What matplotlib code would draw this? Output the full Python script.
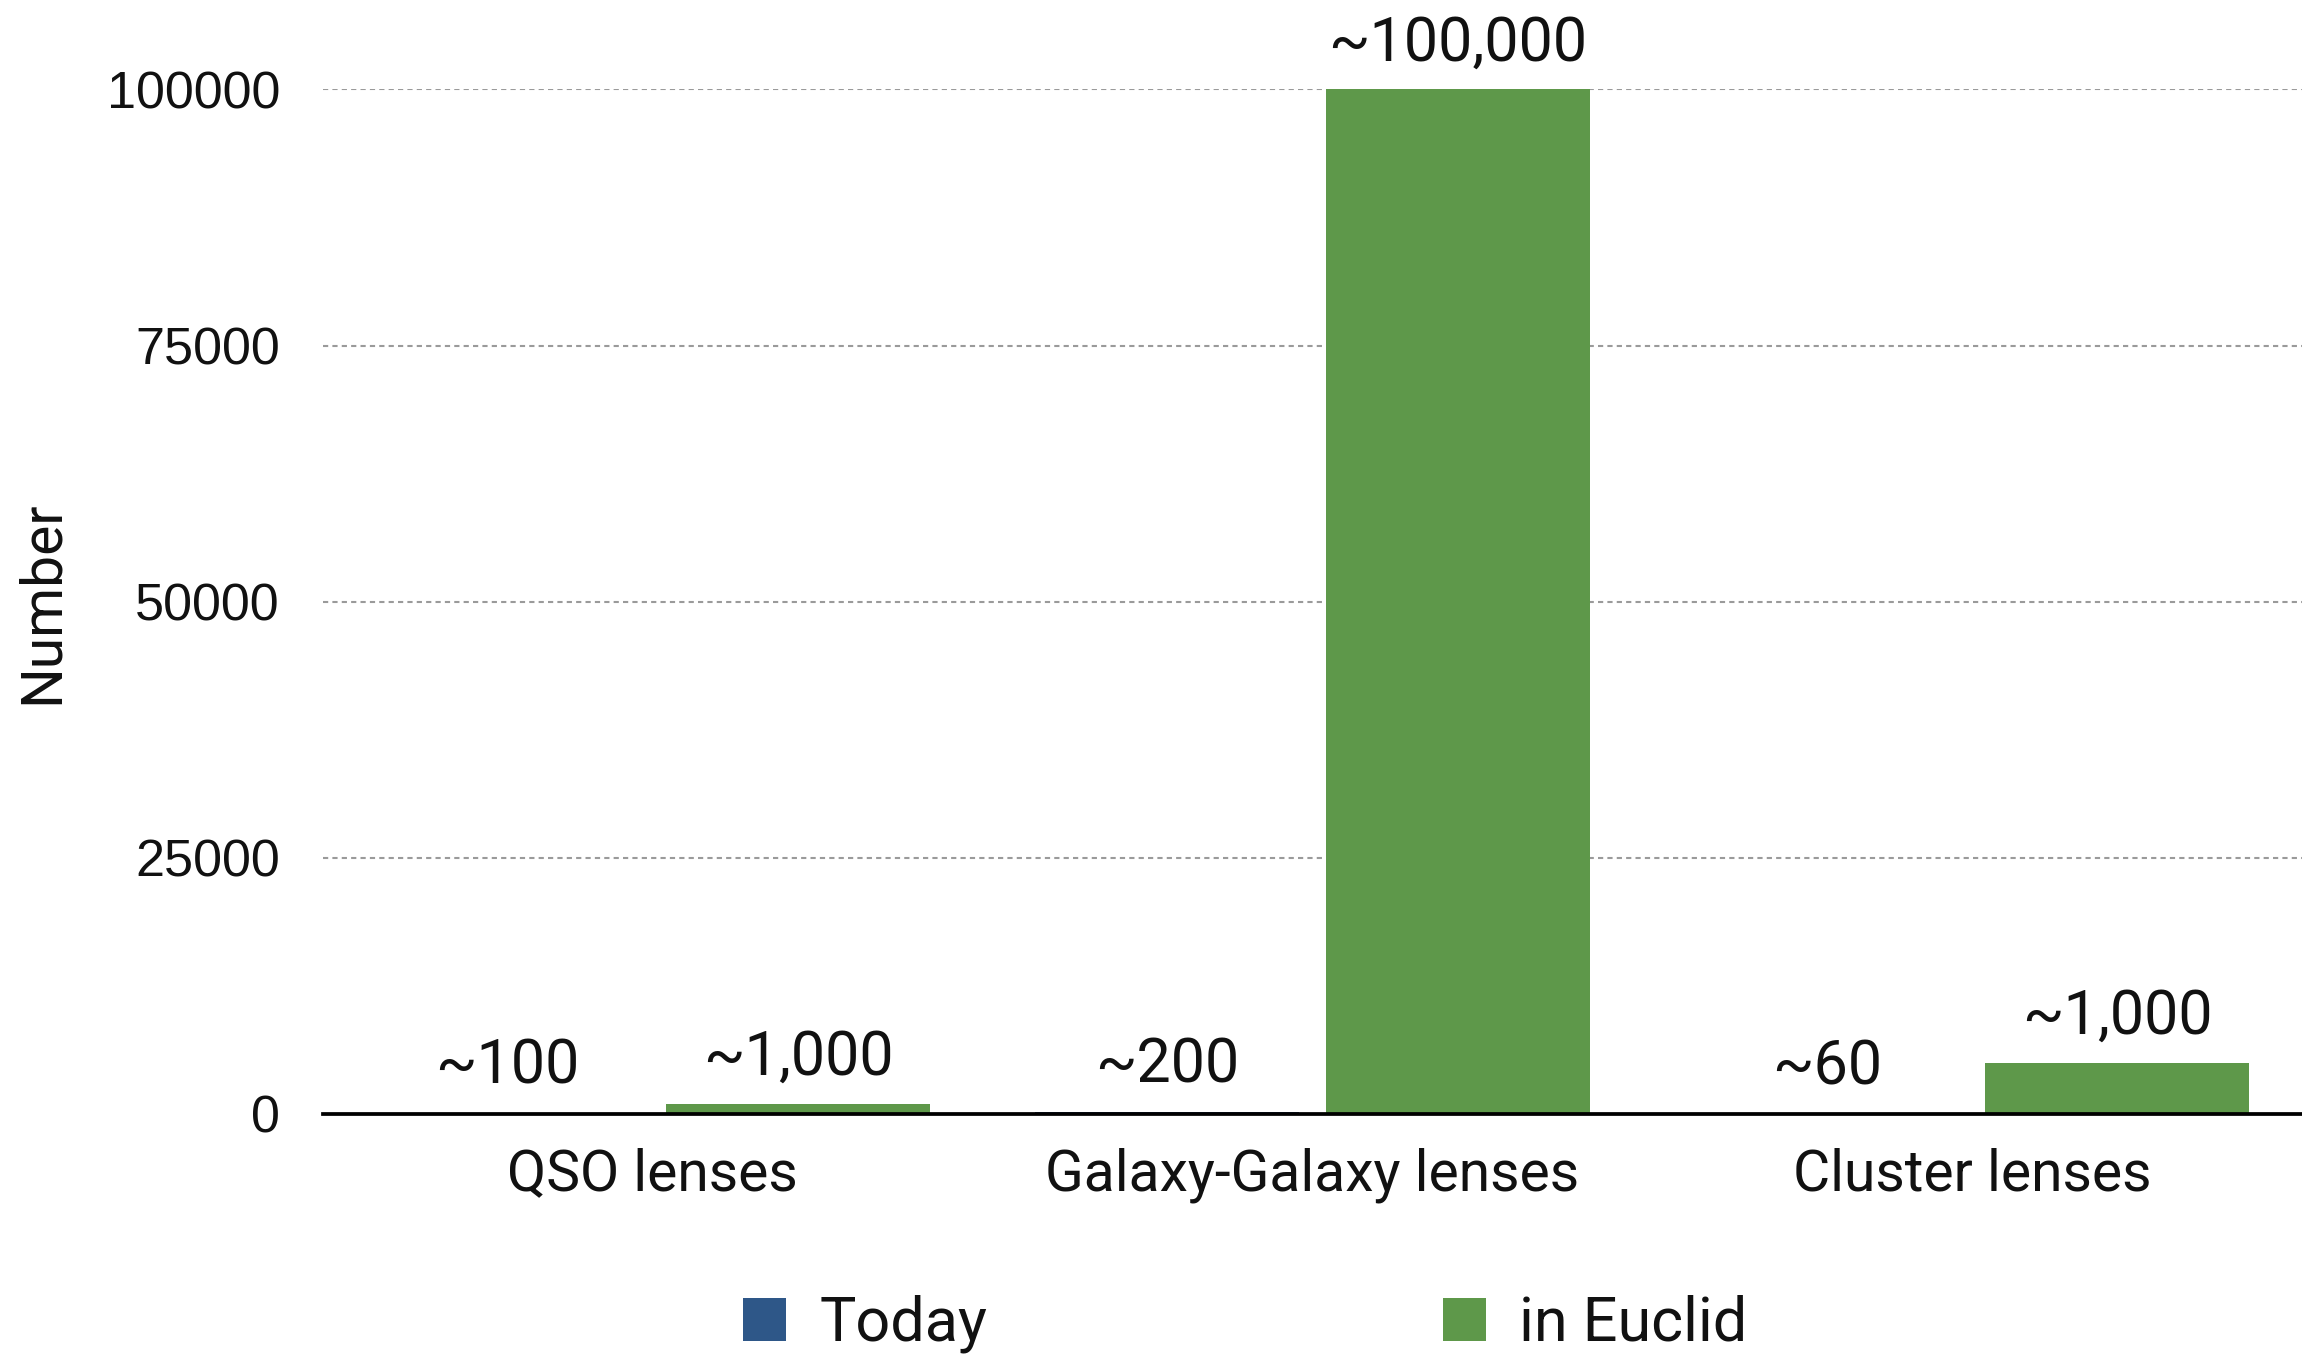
import matplotlib
matplotlib.use("Agg")
import matplotlib.pyplot as plt
from matplotlib.patches import Patch
import numpy as np

categories = ["QSO lenses", "Galaxy-Galaxy lenses", "Cluster lenses"]
series_names = ["Today", "in Euclid"]
today = [100, 200, 60]
euclid = [1000, 100000, 5000]
today_labels = ["~100", "~200", "~60"]
euclid_labels = ["~1,000", "~100,000", "~1,000"]
yticks = [0, 25000, 50000, 75000, 100000]

c_today = "#2E5788"
c_euclid = "#5E984A"

text_font = ["Roboto", "Liberation Sans", "DejaVu Sans"]
tick_font = ["Liberation Sans", "DejaVu Sans"]

fig = plt.figure(figsize=(23.02, 13.55), dpi=100)
ax = fig.add_axes([0.1403, 0.1779, 0.8597, 0.7561])

x = np.arange(len(categories))
w = 0.4
off = 0.22
b1 = ax.bar(x - off, today, w, color=c_today, zorder=3)
b2 = ax.bar(x + off, euclid, w, color=c_euclid, zorder=3)

for bars, labels in ((b1, today_labels), (b2, euclid_labels)):
    for rect, lab in zip(bars, labels):
        ax.annotate(lab, (rect.get_x() + rect.get_width() / 2, rect.get_height()),
                    xytext=(0, 21), textcoords="offset points",
                    ha="center", va="baseline", fontsize=44,
                    family=text_font, color="#111111", annotation_clip=False)

ax.set_xlim(-0.5, 2.5)
ax.set_ylim(0, 100000)
ax.set_yticks(yticks)
ax.set_yticklabels([str(v) for v in yticks], family=tick_font, fontsize=37.5,
                   color="#111111")
ax.set_xticks(x)
ax.set_xticklabels(categories, family=text_font, fontsize=41, color="#111111")
ax.tick_params(axis="y", length=0, pad=31)
ax.tick_params(axis="x", length=0, pad=24)

for v in yticks[1:]:
    ax.axhline(v, color="#9a9a9a", lw=1.5, ls=(0, (2.5, 2)), zorder=1)

for s in ("left", "right", "top"):
    ax.spines[s].set_visible(False)
ax.spines["bottom"].set_linewidth(2.7)
ax.spines["bottom"].set_color("black")
ax.spines["bottom"].set_zorder(4)

ax.set_ylabel("Number", family=text_font, fontsize=41, color="#111111")
ax.yaxis.set_label_coords(-0.128, 0.5)

handles = [Patch(facecolor=c_today), Patch(facecolor=c_euclid)]
fig.legend(handles, series_names, loc="center", bbox_to_anchor=(0.541, 0.023),
           ncol=2, frameon=False,
           prop={"family": text_font, "size": 44},
           labelcolor="#111111",
           handlelength=0.7, handleheight=0.7, handletextpad=0.55,
           columnspacing=7.45)

fig.savefig("out.png", dpi=100)
